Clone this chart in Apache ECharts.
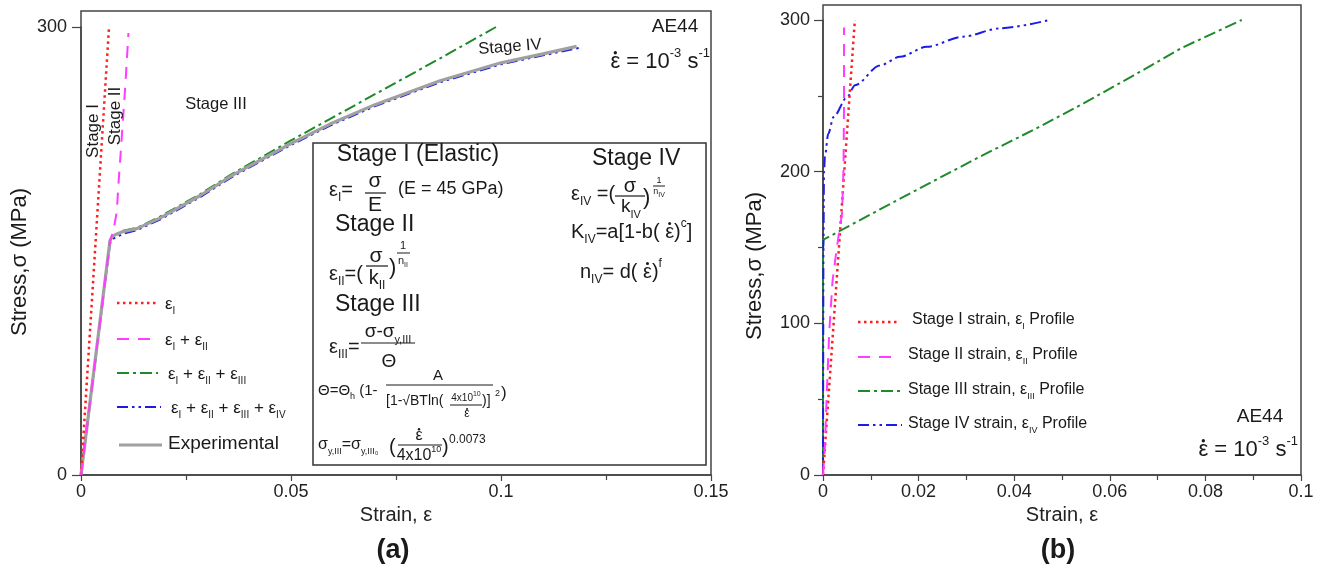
<!DOCTYPE html>
<html>
<head>
<meta charset="utf-8">
<script src="https://cdn.jsdelivr.net/npm/echarts@6/dist/echarts.min.js"></script>
<style>
  html, body { margin: 0; padding: 0; background: #fff; }
  #main { width: 1327px; height: 572px; }
</style>
</head>
<body>
<div id="main"></div>
<script>
// ---- panel (a): model stages summed vs experiment ----
const expStrainA = [0, 0.0069, 0.0075, 0.010, 0.0133, 0.0188, 0.0283, 0.0362, 0.050, 0.0593, 0.070, 0.0855, 0.100, 0.110, 0.118];
const expStressA = [0, 157, 160, 163, 165, 172, 187, 201, 222, 235, 248, 264, 276, 282, 287];
const blueStrainA = [0, 0.0069, 0.0075, 0.010, 0.0133, 0.0188, 0.0283, 0.0362, 0.050, 0.0593, 0.070, 0.0855, 0.100, 0.110, 0.1185];
const blueStressA = [0, 155, 158, 161.5, 164, 171, 186, 200, 221, 234, 247, 263, 275, 281, 286];
const greenStrainA = [0, 0.0069, 0.0075, 0.010, 0.0133, 0.0188, 0.0283, 0.0362, 0.050, 0.059, 0.070, 0.0855, 0.0988];
const greenStressA = [0, 157, 160, 163.5, 165.5, 173, 188, 202, 224, 238, 255, 279, 300];
const magStrainA = [0, 0.0069, 0.0073, 0.0078, 0.0085, 0.009, 0.0098, 0.0106, 0.0113];
const magStressA = [0, 156, 160, 165, 176, 198, 230, 263, 296];
const redStrainA = [0, 0.00667];
const redStressA = [0, 300];

// ---- panel (b): individual stage strain profiles ----
const redStrainB = [0, 0.00667];
const redStressB = [0, 300];
const magStrainB = [0, 0.0004, 0.0008, 0.0013, 0.002, 0.0029, 0.004, 0.0043, 0.0044, 0.0044];
const magStressB = [0, 19, 54, 94, 128, 150, 173, 203, 247, 295];
const greenStrainB = [0, 0, 0.0154, 0.0329, 0.044, 0.0545, 0.065, 0.0753, 0.0876];
const greenStressB = [0, 155, 181, 210, 227.5, 245, 263.5, 282, 300];
const blueStrainB = [0, 0.0001, 0.0002, 0.0004, 0.0011, 0.0022, 0.005, 0.0067, 0.0119, 0.0161, 0.0217, 0.0293, 0.037, 0.0473];
const blueStressB = [0, 150, 199, 210, 225, 236, 249, 257, 270, 275.7, 282.3, 289, 294.5, 300];

const FONT = '"Liberation Sans", Arial, sans-serif';
const INK = '#1a1a1a';
const RED = '#ff1f1f', MAG = '#ff3cff', GREEN = '#1f8a2a', BLUE = '#1c1ce6', GRAY = '#a0a0a0';
const DOT = [2.5, 3.5], DASH = [12, 9], DASHDOT = [12, 4, 3, 4], DASHDOTDOT = [11, 4, 2.5, 4, 2.5, 4];
const EDOT = 'ε\u0307'; // strain rate, dot drawn separately

const zip = (xs, ys) => xs.map((x, i) => [x, ys[i]]);

const mctx = document.createElement('canvas').getContext('2d');
function tw(s, size, weight) {
  mctx.font = (weight || 'normal') + ' ' + size + 'px ' + FONT;
  return mctx.measureText(s).width;
}
const subSize = size => Math.max(7, Math.round(size * 0.58));

function richFor(size, weight) {
  const sub = subSize(size);
  const base = { fontFamily: FONT, fill: INK, fontWeight: weight };
  return {
    m: Object.assign({ fontSize: size, lineHeight: Math.round(size * 1.4) }, base),
    b: Object.assign({ fontSize: sub, lineHeight: sub, verticalAlign: 'bottom' }, base),
    p: Object.assign({ fontSize: sub, lineHeight: sub, verticalAlign: 'top' }, base)
  };
}
// 'ε_{I}' -> subscript, '10^{-3}' -> superscript
function fmt(s) {
  return ('{m|' + s.replace(/_\{([^}]*)\}/g, '}{b|$1}{m|').replace(/\^\{([^}]*)\}/g, '}{p|$1}{m|') + '}')
    .replace(/\{m\|\}/g, '');
}
// returns the text element plus small circles for any dotted epsilon
function label(x, y, s, size, o) {
  o = o || {};
  const weight = o.bold ? 'bold' : 'normal';
  const rich = fmt(s);
  const toks = [];
  rich.replace(/\{(\w)\|([^}]*)\}/g, (all, k, t) => { toks.push([k, t]); return all; });
  const sz = k => (k === 'm' ? size : subSize(size));
  const clean = toks.map(([k, t]) => [k, t.split('\u0307').join('')]);
  const total = clean.reduce((a, [k, t]) => a + tw(t, sz(k), weight), 0);
  const align = o.align || 'left';
  let cur = align === 'center' ? x - total / 2 : align === 'right' ? x - total : x;
  const dots = [];
  toks.forEach(([k, t], i) => {
    let idx = t.indexOf('\u0307');
    while (idx > 0) {
      const pre = t.slice(0, idx).split('\u0307').join('');
      const cx = cur + tw(pre.slice(0, -1), sz(k), weight) + tw(pre.slice(-1), sz(k), weight) / 2;
      dots.push({
        type: 'circle', z: 100,
        shape: { cx: cx, cy: y - 0.42 * sz(k), r: Math.max(1, sz(k) * 0.075) },
        style: { fill: INK }
      });
      idx = t.indexOf('\u0307', idx + 1);
    }
    cur += tw(clean[i][1], sz(k), weight);
  });
  const text = {
    type: 'text', x: x, y: y, rotation: o.rot || 0, z: 100,
    style: {
      text: rich.split('\u0307').join(''), fontSize: size, fontFamily: FONT, fill: INK, fontWeight: weight,
      align: align, verticalAlign: 'middle', rich: richFor(size, weight)
    }
  };
  return [text].concat(dots);
}
function hline(x1, x2, y, color, w, dash) {
  return {
    type: 'line', z: 100, shape: { x1: x1, y1: y, x2: x2, y2: y },
    style: { stroke: color || INK, lineWidth: w || 1.2, lineDash: dash || null }
  };
}
const C = { align: 'center' };

function series(name, idx, data, color, width, dash, z) {
  return {
    name: name, type: 'line', xAxisIndex: idx, yAxisIndex: idx, data: data,
    showSymbol: false, symbol: 'none', z: z, silent: true,
    lineStyle: { color: color, width: width, type: dash, cap: 'butt' }
  };
}

const axisCommon = {
  axisLine: { lineStyle: { color: '#444', width: 1.5 } },
  axisTick: { length: 9, lineStyle: { color: '#444', width: 1.2 } },
  axisLabel: { color: '#222', fontSize: 18, fontFamily: FONT },
  splitLine: { show: false },
  nameTextStyle: { color: '#222', fontSize: 20, fontFamily: FONT }
};
const tickFmt = v => (v === 0 ? '0' : String(+v.toFixed(3)));
const minor = { show: true, splitNumber: 2, length: 5, lineStyle: { color: '#444', width: 1.2 } };

const chart = echarts.init(document.getElementById('main'));

const option = {
  animation: false,
  backgroundColor: '#fff',
  grid: [
    { left: 81, top: 27, width: 630, height: 448 },
    { left: 823, top: 20, width: 478, height: 455 }
  ],
  xAxis: [
    Object.assign({}, axisCommon, {
      type: 'value', gridIndex: 0, min: 0, max: 0.15, interval: 0.05,
      name: 'Strain, ε', nameLocation: 'middle', nameGap: 28,
      axisTick: { length: 6, lineStyle: { color: '#444', width: 1.2 } },
      minorTick: minor,
      axisLabel: Object.assign({}, axisCommon.axisLabel, { margin: 8, formatter: tickFmt })
    }),
    Object.assign({}, axisCommon, {
      type: 'value', gridIndex: 1, min: 0, max: 0.1, interval: 0.02,
      name: 'Strain, ε', nameLocation: 'middle', nameGap: 28,
      axisTick: { length: 6, lineStyle: { color: '#444', width: 1.2 } },
      minorTick: minor,
      axisLabel: Object.assign({}, axisCommon.axisLabel, { margin: 8, formatter: tickFmt })
    })
  ],
  yAxis: [
    Object.assign({}, axisCommon, {
      type: 'value', gridIndex: 0, min: 0, max: 300, interval: 300,
      axisLabel: Object.assign({}, axisCommon.axisLabel, { margin: 14 })
    }),
    Object.assign({}, axisCommon, {
      type: 'value', gridIndex: 1, min: 0, max: 300, interval: 100,
      minorTick: minor,
      axisLabel: Object.assign({}, axisCommon.axisLabel, { margin: 13 })
    })
  ],
  series: [
    series('Experimental', 0, zip(expStrainA, expStressA), GRAY, 3.2, 'solid', 3),
    series('εI', 0, zip(redStrainA, redStressA), RED, 2.5, DOT, 4),
    series('εI + εII', 0, zip(magStrainA, magStressA), MAG, 2, DASH, 4),
    series('εI + εII + εIII', 0, zip(greenStrainA, greenStressA), GREEN, 2, DASHDOT, 2),
    series('εI + εII + εIII + εIV', 0, zip(blueStrainA, blueStressA), BLUE, 2, DASHDOTDOT, 2),

    series('Stage I strain', 1, zip(redStrainB, redStressB), RED, 2.5, DOT, 4),
    series('Stage II strain', 1, zip(magStrainB, magStressB), MAG, 2, DASH, 4),
    series('Stage III strain', 1, zip(greenStrainB, greenStressB), GREEN, 2, DASHDOT, 3),
    Object.assign(series('Stage IV strain', 1, zip(blueStrainB, blueStressB), BLUE, 2, DASHDOTDOT, 3),
      { smooth: 0.3, smoothMonotone: 'x' })
  ],
  graphic: [
    // plot frames (top and right edges go a bit above the 300 tick)
    { type: 'rect', z: 1, shape: { x: 81, y: 11, width: 630, height: 464 }, style: { fill: 'none', stroke: '#444', lineWidth: 1.5 } },
    { type: 'rect', z: 1, shape: { x: 823, y: 5, width: 478, height: 470 }, style: { fill: 'none', stroke: '#444', lineWidth: 1.5 } },

    // axis titles, panel letters
    label(20, 262, 'Stress,σ (MPa)', 22, { align: 'center', rot: Math.PI / 2 }),
    label(755, 266, 'Stress,σ (MPa)', 22, { align: 'center', rot: Math.PI / 2 }),
    label(393, 551, '(a)', 27, { align: 'center', bold: true }),
    label(1058, 551, '(b)', 27, { align: 'center', bold: true }),

    // panel (a) annotations
    label(93, 131, 'Stage I', 17, { align: 'center', rot: Math.PI / 2 }),
    label(115, 116, 'Stage II', 17, { align: 'center', rot: Math.PI / 2 }),
    label(216, 104, 'Stage III', 16.5, C),
    label(510, 47, 'Stage IV', 16.5, { align: 'center', rot: 0.08 }),
    label(675, 27, 'AE44', 19, C),
    label(710, 62, EDOT + ' = 10^{-3} s^{-1}', 22, { align: 'right' }),

    // equations box
    { type: 'rect', z: 90, shape: { x: 313, y: 143, width: 393, height: 322 }, style: { fill: '#fff', stroke: '#333', lineWidth: 1.5 } },
    label(418, 155, 'Stage I (Elastic)', 23, C),
    label(329, 190, 'ε_{I}=', 20),
    label(375, 181, 'σ', 21, C), hline(365, 386, 193), label(375, 205, 'E', 21, C),
    label(398, 189, '(E = 45 GPa)', 18),
    label(335, 225, 'Stage II', 23),
    label(329, 274, 'ε_{II}=(', 20),
    label(376, 256, 'σ', 21, C), hline(366, 388, 266), label(377, 278, 'k_{II}', 20, C),
    label(389, 268, ')', 22),
    label(403, 246, '1', 11, C), hline(397, 410, 253, INK, 1), label(403, 261, 'n_{II}', 11, C),
    label(335, 305, 'Stage III', 23),
    label(329, 347, 'ε_{III}=', 20),
    label(388, 332, 'σ-σ_{y,III}', 19, C), hline(361, 415, 343), label(389, 362, 'Θ', 19, C),
    label(318, 391, 'Θ=Θ_{h} (1-', 15),
    label(438, 376, 'A', 15, C), hline(386, 493, 385),
    label(386, 401, '[1-√BTln(', 14),
    label(466, 398, '4x10^{10}', 10, C), hline(450, 482, 405, INK, 1), label(467, 414, EDOT, 12, C),
    label(482, 401, ')]', 14),
    label(495, 394, '2', 9),
    label(501, 393, ')', 17),
    label(318, 445, 'σ_{y,III}=σ_{y,III₀}', 16),
    label(389, 447, '(', 20),
    label(419, 436, EDOT, 16, C), hline(398, 442, 445), label(419, 456, '4x10^{10}', 16, C),
    label(442, 447, ')', 20),
    label(449, 440, '0.0073', 12),
    label(592, 159, 'Stage IV', 23),
    label(571, 194, 'ε_{IV} =(', 20),
    label(630, 186, 'σ', 20, C), hline(615, 645, 196), label(631, 207, 'k_{IV}', 19, C),
    label(643, 198, ')', 22),
    label(659, 181, '1', 9, C), hline(653, 665, 186, INK, 1), label(659, 192, 'n_{IV}', 9, C),
    label(571, 232, 'K_{IV}=a[1-b( ' + EDOT + ')^{c}]', 20),
    label(580, 272, 'n_{IV}= d( ' + EDOT + ')^{f}', 20),

    // panel (a) legend
    hline(117, 158, 303, RED, 2.5, DOT), label(165, 304, 'ε_{I}', 17),
    hline(117, 158, 339, MAG, 2, DASH), label(165, 340, 'ε_{I} + ε_{II}', 17),
    hline(117, 158, 373, GREEN, 2, DASHDOT), label(168, 374, 'ε_{I} + ε_{II} + ε_{III}', 17),
    hline(117, 161, 407, BLUE, 2, DASHDOTDOT), label(171, 408, 'ε_{I} + ε_{II} + ε_{III} + ε_{IV}', 17),
    hline(119, 162, 445, GRAY, 3.2), label(168, 444, 'Experimental', 19),

    // panel (b) legend and annotations
    hline(858, 900, 322, RED, 2.5, DOT), label(912, 320, 'Stage I strain, ε_{I} Profile', 16),
    hline(858, 900, 357, MAG, 2, DASH), label(908, 355, 'Stage II strain, ε_{II} Profile', 16),
    hline(858, 900, 391, GREEN, 2, DASHDOT), label(908, 390, 'Stage III strain, ε_{III} Profile', 16),
    hline(858, 902, 425, BLUE, 2, DASHDOTDOT), label(908, 424, 'Stage IV strain, ε_{IV} Profile', 16),
    label(1260, 417, 'AE44', 19, C),
    label(1298, 450, EDOT + ' = 10^{-3} s^{-1}', 22, { align: 'right' })
  ].flat()
};

chart.setOption(option);
</script>
</body>
</html>
